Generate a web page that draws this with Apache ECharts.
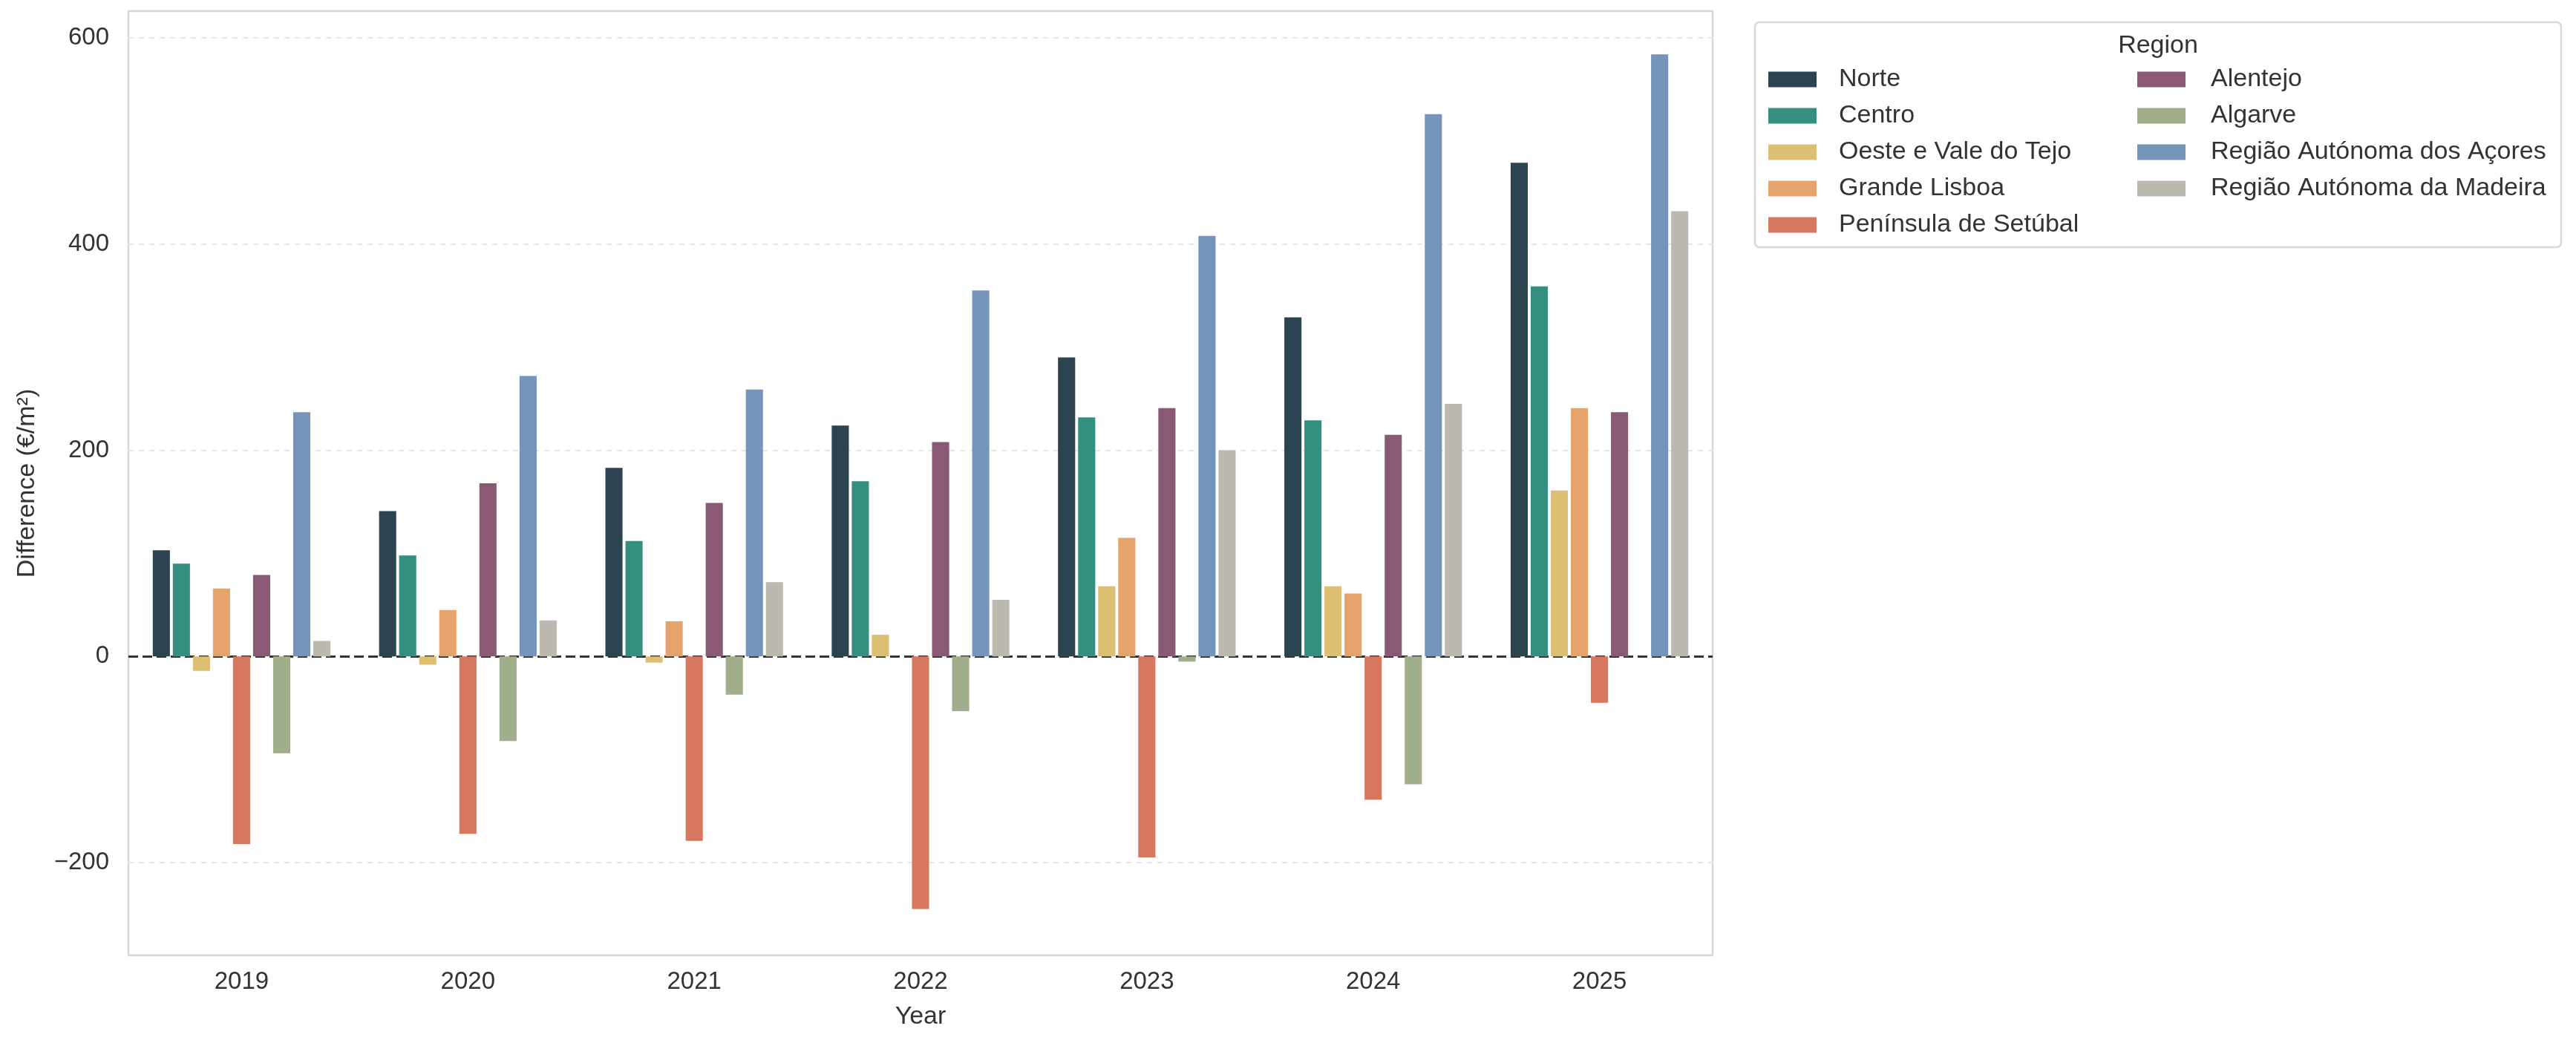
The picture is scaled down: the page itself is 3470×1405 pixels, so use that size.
<!DOCTYPE html>
<html>
<head>
<meta charset="utf-8">
<script src="https://cdn.jsdelivr.net/npm/echarts@6/dist/echarts.min.js"></script>
<style>
html,body{margin:0;padding:0;background:#fff;}
#chart{width:3470px;height:1405px;}
</style>
</head>
<body>
<div id="chart"></div>
<script>
const years = ['2019','2020','2021','2022','2023','2024','2025'];
const regions = ['Norte','Centro','Oeste e Vale do Tejo','Grande Lisboa','Península de Setúbal','Alentejo','Algarve','Região Autónoma dos Açores','Região Autónoma da Madeira'];
const colors = ['#2b4450','#358f80','#dcbf72','#e6a46d','#d6775f','#8a5a74','#a0ae8b','#7594ba','#bbb9b0'];

const norte    = [103, 141, 183, 224, 290, 329, 479];
const centro   = [90, 98, 112, 170, 232, 229, 359];
const oeste    = [-14, -8, -6, 21, 68, 68, 161];
const lisboa   = [66, 45, 34, null, 115, 61, 241];
const setubal  = [-182, -172, -179, -245, -195, -139, -45];
const alentejo = [79, 168, 149, 208, 241, 215, 237];
const algarve  = [-94, -82, -37, -53, -5, -124, null];
const acores   = [237, 272, 259, 355, 408, 526, 584];
const madeira  = [15, 35, 72, 55, 200, 245, 432];

const gridTicks = [-200, 200, 400, 600];
const zeroLine = 0;

const values = [norte, centro, oeste, lisboa, setubal, alentejo, algarve, acores, madeira];
const font = '"Liberation Sans", Arial, sans-serif';
const textColor = '#333333';

const series = regions.map((name, i) => ({
  name: name,
  type: 'bar',
  data: values[i],
  itemStyle: { color: colors[i] },
  barGap: '17%',
  barCategoryGap: '21.5%',
  z: 5
}));

series.push({
  name: '_grid',
  type: 'line',
  data: [],
  z: 1,
  silent: true,
  markLine: {
    silent: true,
    symbol: 'none',
    label: { show: false },
    lineStyle: { color: '#e6e6e6', type: [7, 7], width: 2 },
    data: gridTicks.map(v => ({ yAxis: v }))
  }
});
series.push({
  name: '_zero',
  type: 'line',
  data: [],
  z: 20,
  silent: true,
  markLine: {
    silent: true,
    symbol: 'none',
    label: { show: false },
    lineStyle: { color: '#333333', type: [13, 6], width: 3 },
    data: [{ yAxis: zeroLine }]
  }
});

function legendCfg(data, left, padLeft) {
  return {
    data: data,
    left: left,
    top: 90,
    orient: 'vertical',
    icon: 'rect',
    itemWidth: 65,
    itemHeight: 21,
    itemGap: 15,
    selectedMode: false,
    padding: 0,
    textStyle: { fontFamily: font, fontSize: 34, color: textColor, lineHeight: 34, padding: [0, 0, 0, padLeft] }
  };
}

const option = {
  backgroundColor: '#ffffff',
  animation: false,
  color: colors,
  grid: {
    left: 173, right: 3470 - 2307, top: 15, bottom: 1405 - 1287,
    show: true, borderColor: '#d6d6d6', borderWidth: 2.5, backgroundColor: '#ffffff',
    containLabel: false
  },
  legend: [
    legendCfg(regions.slice(0, 5), 2382, 25),
    legendCfg(regions.slice(5), 2879, 29)
  ],
  graphic: [
    { type: 'rect', z: -1,
      shape: { x: 2364, y: 30, width: 1086, height: 303, r: 6 },
      style: { fill: '#ffffff', stroke: '#d9d9d9', lineWidth: 2.5 } },
    { type: 'text', z: 10, x: 2907, y: 62,
      style: { text: 'Region', font: '34px ' + font, fill: textColor, align: 'center', verticalAlign: 'middle' } }
  ],
  xAxis: {
    type: 'category',
    data: years,
    boundaryGap: true,
    axisLine: { show: false },
    axisTick: { show: false },
    splitLine: { show: false },
    axisLabel: { fontFamily: font, fontSize: 33, color: textColor, margin: 19 },
    name: 'Year',
    nameLocation: 'middle',
    nameGap: 66,
    nameTextStyle: { fontFamily: font, fontSize: 34, color: textColor }
  },
  yAxis: {
    type: 'value',
    min: -290,
    max: 626,
    interval: 2,
    axisLine: { show: false },
    axisTick: { show: false },
    splitLine: { show: false },
    axisLabel: {
      fontFamily: font, fontSize: 33, color: textColor, margin: 26,
      formatter: function (v) {
        const r = Math.round(v);
        if (r % 200 === 0) return r < 0 ? '\u2212' + Math.abs(r) : String(r);
        return '';
      }
    },
    name: 'Difference (€/m²)',
    nameLocation: 'middle',
    nameGap: 119,
    nameTextStyle: { fontFamily: font, fontSize: 34, color: textColor }
  },
  series: series
};

const chart = echarts.init(document.getElementById('chart'), null, { renderer: 'canvas' });
chart.setOption(option);
</script>
</body>
</html>
